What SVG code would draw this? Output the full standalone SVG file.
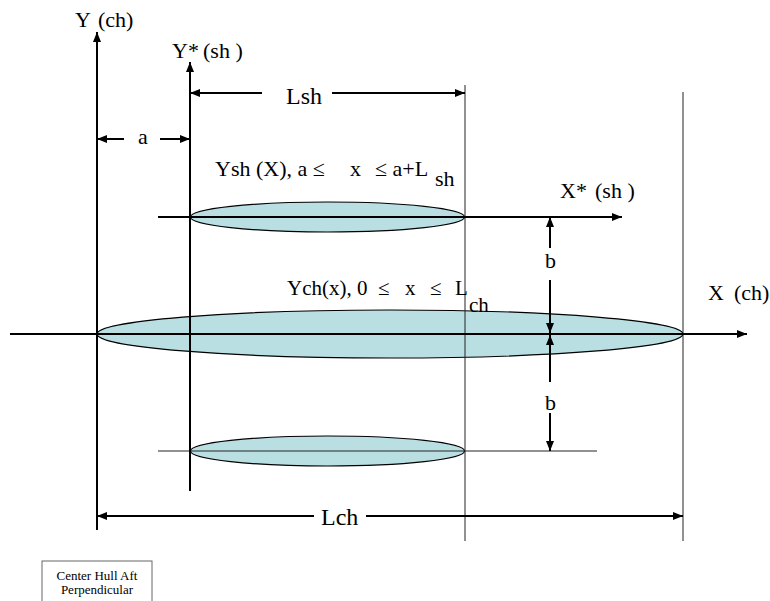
<svg xmlns="http://www.w3.org/2000/svg" width="770" height="601" viewBox="0 0 770 601">
<style>
.ax{stroke:#000;stroke-width:2;fill:none}
.thin{stroke:#222;stroke-width:1;fill:none}
.hull{fill:#b9dfe3;stroke:#000;stroke-width:1.2}
</style>
<defs>
<marker id="ah" viewBox="0 0 10 8" refX="10" refY="4" markerWidth="10" markerHeight="8" markerUnits="userSpaceOnUse" orient="auto-start-reverse">
<path d="M0,0 L10,4 L0,8 z" fill="#000"/>
</marker>
</defs>
<rect width="770" height="601" fill="#fff"/>
<g id="hulls">
<ellipse id="center-hull" class="hull" cx="390" cy="334" rx="293" ry="24"/>
<ellipse id="side-hull-top" class="hull" cx="327.5" cy="217" rx="137" ry="15"/>
<ellipse id="side-hull-bottom" class="hull" cx="327.5" cy="451" rx="137" ry="15"/>
</g>
<g id="connectors">
<line class="thin" x1="465" y1="85" x2="465" y2="541"/>
<line class="thin" x1="683" y1="92" x2="683" y2="541"/>
<line class="thin" x1="158" y1="451" x2="597" y2="451"/>
<line class="ax" x1="10" y1="334" x2="747" y2="334" marker-end="url(#ah)"/>
<line class="ax" x1="158" y1="217" x2="622" y2="217" marker-end="url(#ah)"/>
<line class="ax" x1="97" y1="530" x2="97" y2="32" marker-end="url(#ah)"/>
<line class="ax" x1="190" y1="491" x2="190" y2="62" marker-end="url(#ah)"/>
<line class="ax" x1="262" y1="93" x2="190" y2="93" marker-end="url(#ah)"/>
<line class="ax" x1="332" y1="93" x2="465" y2="93" marker-end="url(#ah)"/>
<line class="ax" x1="124" y1="139" x2="97" y2="139" marker-end="url(#ah)"/>
<line class="ax" x1="160" y1="139" x2="190" y2="139" marker-end="url(#ah)"/>
<line class="ax" x1="550" y1="248" x2="550" y2="217" marker-end="url(#ah)"/>
<line class="ax" x1="550" y1="280" x2="550" y2="333" marker-end="url(#ah)"/>
<line class="ax" x1="550" y1="382" x2="550" y2="335" marker-end="url(#ah)"/>
<line class="ax" x1="550" y1="413" x2="550" y2="451" marker-end="url(#ah)"/>
<line class="ax" x1="314" y1="516" x2="97" y2="516" marker-end="url(#ah)"/>
<line class="ax" x1="366" y1="516" x2="683" y2="516" marker-end="url(#ah)"/>
</g>
<g id="labels" font-family="'Liberation Serif', 'Times New Roman', 'DejaVu Serif', serif" fill="#000">
<text font-size="22" y="27"><tspan x="75">Y</tspan><tspan x="98">(ch)</tspan></text>
<text font-size="22" y="58"><tspan x="172">Y*</tspan><tspan x="203">(sh )</tspan></text>
<text font-size="24" x="286" y="104">Lsh</text>
<text font-size="22" x="138" y="144">a</text>
<text font-size="22" y="176"><tspan x="215">Ysh (X), a ≤</tspan><tspan x="350">x</tspan><tspan x="375">≤ a+L</tspan></text>
<text font-size="22" x="435" y="186">sh</text>
<text font-size="22" y="198"><tspan x="560">X*</tspan><tspan x="595">(sh )</tspan></text>
<text font-size="21" y="295"><tspan x="287">Ych(x), 0</tspan><tspan x="378">≤</tspan><tspan x="405">x</tspan><tspan x="430">≤</tspan><tspan x="455">L</tspan></text>
<text font-size="21" x="469" y="312">ch</text>
<text font-size="22" y="300"><tspan x="708">X</tspan><tspan x="734">(ch)</tspan></text>
<text font-size="22" x="545" y="268">b</text>
<text font-size="22" x="545" y="410">b</text>
<text font-size="24" x="321" y="525">Lch</text>
</g>
<g id="aft-perpendicular-note" font-family="'Liberation Serif', 'Times New Roman', 'DejaVu Serif', serif">
<rect x="42" y="561" width="110" height="48" fill="#fff" stroke="#666" stroke-width="1"/>
<text font-size="13" text-anchor="middle" x="97" y="580">Center Hull Aft</text>
<text font-size="13" text-anchor="middle" x="97" y="594">Perpendicular</text>
</g>
</svg>
